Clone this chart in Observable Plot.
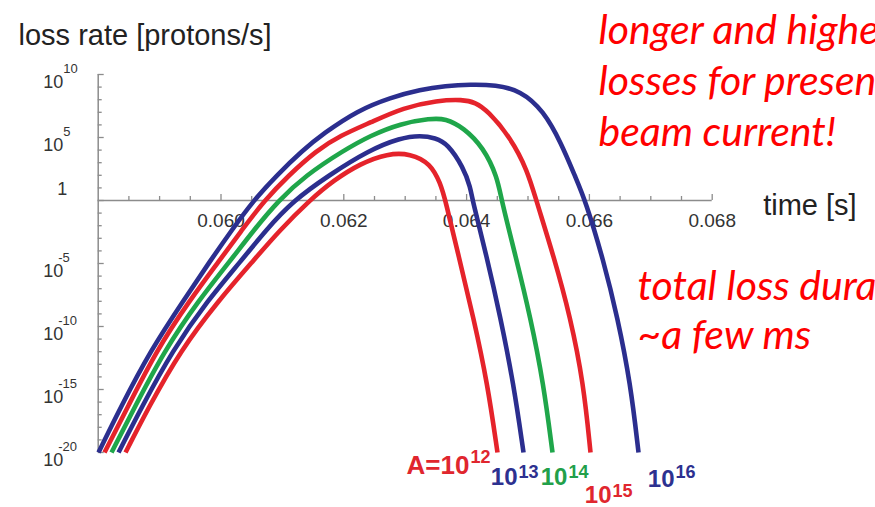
<!DOCTYPE html>
<html>
<head>
<meta charset="utf-8">
<script src="https://cdn.jsdelivr.net/npm/d3@7"></script>
<script src="https://cdn.jsdelivr.net/npm/@observablehq/plot@0.6"></script>
<style>
  html, body { margin: 0; padding: 0; background: #fff; overflow: hidden; }
  #chart svg { display: block; overflow: hidden; }
</style>
</head>
<body>
<div id="chart"></div>
<script>
// ---- Data (time in s, log10 of loss rate in protons/s) ----
const seriesNames = ["1e12", "1e13", "1e14", "1e15", "1e16"];

const t12 = [0.058445, 0.058819, 0.059340, 0.059959, 0.060529, 0.060953, 0.061441, 0.061832, 0.062272, 0.062712, 0.063086, 0.063412, 0.063575, 0.063656, 0.063868, 0.064112, 0.064340, 0.064503];
const e12 = [-20, -16.43, -11.9, -7.94, -4.76, -2.38, 0, 1.59, 2.94, 3.73, 3.73, 2.94, 1.35, 0, -4.37, -9.29, -14.52, -20];

const t13 = [0.058331, 0.058705, 0.059210, 0.059780, 0.060334, 0.060725, 0.061181, 0.061751, 0.062402, 0.062923, 0.063249, 0.063493, 0.063689, 0.063949, 0.064063, 0.064096, 0.064324, 0.064552, 0.064764, 0.064927];
const e13 = [-20, -16.43, -11.9, -7.94, -4.76, -2.38, 0, 1.98, 3.97, 4.97, 5.16, 4.97, 4.52, 2.62, 1.03, 0, -4.37, -9.29, -14.52, -20];

const t14 = [0.058217, 0.058591, 0.059080, 0.059634, 0.060155, 0.060529, 0.060936, 0.061376, 0.061995, 0.062435, 0.062923, 0.063412, 0.063656, 0.063949, 0.064275, 0.064503, 0.064568, 0.064796, 0.065041, 0.065252, 0.065399];
const e14 = [-20, -16.43, -11.9, -7.94, -4.76, -2.38, 0, 1.98, 3.97, 5.16, 6.11, 6.51, 6.51, 5.79, 4.21, 1.83, 0, -4.37, -9.29, -14.52, -20];

const t15 = [0.058103, 0.058477, 0.058950, 0.059487, 0.059976, 0.060334, 0.060708, 0.061099, 0.061555, 0.061946, 0.062435, 0.062972, 0.063526, 0.063933, 0.064145, 0.064340, 0.064715, 0.064992, 0.065134, 0.065415, 0.065692, 0.065904, 0.066018];
const e15 = [-20, -16.43, -11.9, -7.94, -4.76, -2.38, 0, 1.98, 3.97, 5.16, 6.19, 7.38, 7.94, 8.02, 7.78, 7.14, 5.00, 2.38, 0, -4.37, -9.29, -14.52, -20];

const t16 = [0.058005, 0.058363, 0.058852, 0.059389, 0.059829, 0.060171, 0.060529, 0.060904, 0.061327, 0.061669, 0.062223, 0.062761, 0.063249, 0.063656, 0.064063, 0.064471, 0.064878, 0.065252, 0.065545, 0.065774, 0.065935, 0.066230, 0.066458, 0.066669, 0.066800];
const e16 = [-20, -16.43, -11.9, -7.94, -4.76, -2.38, 0, 1.98, 3.97, 5.32, 7.14, 8.17, 8.81, 9.09, 9.21, 9.17, 8.73, 7.14, 4.52, 1.83, 0, -4.76, -9.29, -14.52, -20];

// ticks and labels
const xTicksMinor = [0.0585, 0.0590, 0.0595, 0.0605, 0.0610, 0.0615, 0.0625, 0.0630, 0.0635, 0.0645, 0.0650, 0.0655, 0.0665, 0.0670, 0.0675];
const xTicksMajor = [0.060, 0.062, 0.064, 0.066, 0.068];
const xTickLabels = ["0.060", "0.062", "0.064", "0.066", "0.068"];
const yDecades = [-20,-19,-18,-17,-16,-15,-14,-13,-12,-11,-10,-9,-8,-7,-6,-5,-4,-3,-2,-1,0,1,2,3,4,5,6,7,8,9,10];
const yMajorExp = [-20, -15, -10, -5, 0, 5, 10];
const yLabelPos = [10, 5];
const yLabelNeg = [-5, -10, -15, -20];

const curveLabelBase = ["A=10", "10", "10", "10", "10"];
const curveLabelSup = ["12", "13", "14", "15", "16"];

const titleText = "loss rate [protons/s]";
const xAxisTitle = "time [s]";
const note1 = ["longer and higher", "losses for present", "beam current!"];
const note2 = ["total loss duration", "~a few ms"];

// ---- build tables ----
const red = "#e5232b", blue = "#2b2e8e", green = "#1fa64a";
const colors = [red, blue, green, red, blue];
const labelColors = ["#e0262e", "#2d3190", "#22a04a", "#e0262e", "#2d3190"];
const tArr = [t12, t13, t14, t15, t16];
const eArr = [e12, e13, e14, e15, e16];
const tables = tArr.map((ts, s) => ts.map((t, i) => ({t, rate: Math.pow(10, eArr[s][i]), series: seriesNames[s]})));

// layout
const W = 875, H = 507;
const mL = 97.7, mR = 163.3, mT = 74, mB = 55;
const axisGray = "#8c8c8c";
const sans = "'Liberation Sans', Arial, Helvetica, sans-serif";
const italicFont = "Lato, 'Open Sans', sans-serif";
const X0 = 0.058, X1 = 0.068;

const marks = [];

// axis lines
marks.push(Plot.ruleX([X0], {x: d => d, y1: () => 1e-20, y2: () => 1e10, stroke: axisGray, strokeWidth: 1.5}));
marks.push(Plot.ruleY([1], {y: d => d, x1: () => X0, x2: () => X1, stroke: axisGray, strokeWidth: 1.5}));
// y ticks (inward)
marks.push(Plot.ruleY(yDecades.filter(e => !yMajorExp.includes(e)).map(e => Math.pow(10, e)), {y: d => d, x1: () => X0, x2: () => X0, insetLeft: 4, stroke: axisGray, strokeWidth: 1.3}));
marks.push(Plot.ruleY(yMajorExp.map(e => Math.pow(10, e)), {y: d => d, x1: () => X0, x2: () => X0, insetLeft: 6, stroke: axisGray, strokeWidth: 1.3}));
// x ticks (upward)
marks.push(Plot.ruleX(xTicksMinor, {x: d => d, y1: () => 1, y2: () => 1, insetBottom: 4, stroke: axisGray, strokeWidth: 1.3}));
marks.push(Plot.ruleX(xTicksMajor, {x: d => d, y1: () => 1, y2: () => 1, insetBottom: 6, stroke: axisGray, strokeWidth: 1.3}));

// x tick labels
marks.push(Plot.text(xTicksMajor, {x: d => d, y: () => 1, text: (d, i) => xTickLabels[i], dy: 20, fontSize: 19, fill: "#333", fontFamily: sans}));
// y tick labels
marks.push(Plot.text(yLabelPos.concat(yLabelNeg), {x: () => X0, y: d => Math.pow(10, d), text: () => "10", textAnchor: "end", dx: -35, dy: 8, fontSize: 18, fill: "#333", fontFamily: sans}));
marks.push(Plot.text(yLabelPos, {x: () => X0, y: d => Math.pow(10, d), text: d => String(d), textAnchor: "start", dx: -35, dy: -6, fontSize: 13, fill: "#333", fontFamily: sans}));
marks.push(Plot.text(yLabelNeg, {x: () => X0, y: d => Math.pow(10, d), text: d => "-" + String(-d), textAnchor: "start", dx: -40, dy: -6, fontSize: 13, fill: "#333", fontFamily: sans}));
marks.push(Plot.text([1], {x: () => X0, y: d => d, text: () => "1", textAnchor: "end", dx: -31, dy: -11, fontSize: 18, fill: "#333", fontFamily: sans}));

// axis titles
marks.push(Plot.text([xAxisTitle], {x: () => X1, y: () => 1, text: d => d, textAnchor: "start", dx: 51, dy: 5, fontSize: 29, fill: "#222", fontFamily: sans}));
marks.push(Plot.text([titleText], {frameAnchor: "top-left", text: d => d, textAnchor: "start", dx: 18 - mL, dy: 23.7 - mT, fontSize: 29, fill: "#222", fontFamily: sans}));

// curves
tables.forEach((tbl, s) => {
  marks.push(Plot.line(tbl, {x: "t", y: "rate", stroke: colors[s], strokeWidth: 4.6, curve: "basis", strokeLinecap: "butt"}));
});

// curve labels (join point between base and superscript, in time units, and pixel offsets)
const labelJoinT = [0.064047, 0.064829, 0.065643, 0.066360, 0.067386];
const labelBaseDy = [13.3, 25.3, 25.3, 43.3, 27.3];
const labelSupDy = [5.2, 20.2, 20.2, 39.2, 20.2];
curveLabelBase.forEach((b, i) => {
  marks.push(Plot.text([b], {x: () => labelJoinT[i], y: () => 1e-20, text: d => d, textAnchor: "end", dy: labelBaseDy[i], fontSize: i === 0 ? 26 : 24, fontWeight: "bold", fill: labelColors[i], fontFamily: sans}));
  marks.push(Plot.text([curveLabelSup[i]], {x: () => labelJoinT[i], y: () => 1e-20, text: d => d, textAnchor: "start", dx: 1, dy: labelSupDy[i], fontSize: 18, fontWeight: "bold", fill: labelColors[i], fontFamily: sans}));
});

// red annotations
const noteFs = 41;
note1.forEach((line, i) => {
  const baseline = [27, 78, 129][i];
  marks.push(Plot.text([line], {frameAnchor: "top-left", text: d => d, textAnchor: "start", dx: 598 - mL, dy: baseline - 0.32 * noteFs - mT, fontSize: noteFs, fontStyle: "italic", fill: "#ff0000", fontFamily: italicFont}));
});
note2.forEach((line, i) => {
  const baseline = [283, 332][i];
  marks.push(Plot.text([line], {frameAnchor: "top-left", text: d => d, textAnchor: "start", dx: 637 - mL, dy: baseline - 0.32 * noteFs - mT, fontSize: noteFs, fontStyle: "italic", fill: "#ff0000", fontFamily: italicFont}));
});

const chart = Plot.plot({
  width: W, height: H,
  marginLeft: mL, marginRight: mR, marginTop: mT, marginBottom: mB,
  style: {background: "#fff", fontFamily: sans},
  x: {domain: [X0, X1], axis: null},
  y: {type: "log", domain: [1e-20, 1e10], axis: null},
  marks
});
document.getElementById("chart").appendChild(chart);
</script>
</body>
</html>
